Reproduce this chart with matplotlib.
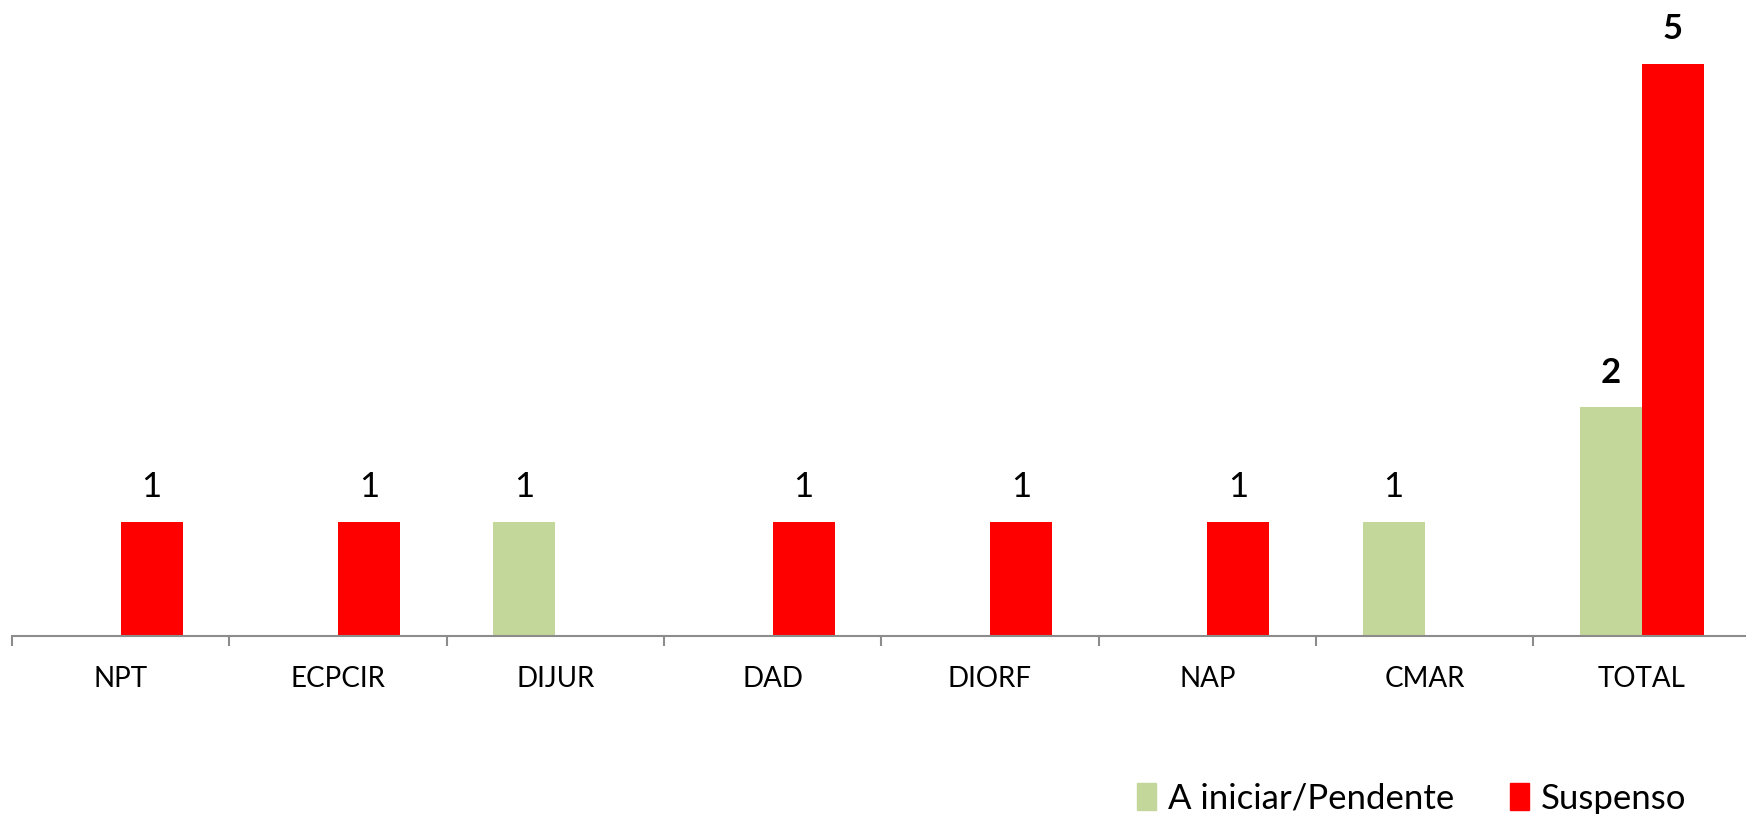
import numpy as np
import matplotlib
matplotlib.use('Agg')
import matplotlib.pyplot as plt
from matplotlib.patches import Patch

plt.rcParams['font.family'] = ['Lato', 'DejaVu Sans']

categorias = ['NPT', 'ECPCIR', 'DIJUR', 'DAD', 'DIORF', 'NAP', 'CMAR', 'TOTAL']
a_iniciar = [0, 0, 1, 0, 0, 0, 1, 2]
suspenso = [1, 1, 0, 1, 1, 1, 0, 5]

cor_verde = '#C4D79B'
cor_verm = '#FF0000'
cinza = '#8C8C8C'

fig = plt.figure(figsize=(17.46, 8.14), dpi=100)
ax = fig.add_axes([12 / 1746, 178 / 814, 1738.6 / 1746, 629.75 / 814])

x = np.arange(len(categorias))
w = 0.285
b1 = ax.bar(x - w / 2, a_iniciar, w, color=cor_verde, label='A iniciar/Pendente')
b2 = ax.bar(x + w / 2, suspenso, w, color=cor_verm, label='Suspenso')

ax.set_xlim(-0.5, len(categorias) - 0.5)
ax.set_ylim(0, 5.5)

# rotulos de valor (so onde ha valor)
for barras, vals in [(b1, a_iniciar), (b2, suspenso)]:
    for rect, v, cat in zip(barras, vals, categorias):
        if v == 0:
            continue
        peso = 'bold' if cat == 'TOTAL' else 'normal'
        ax.annotate(str(v), (rect.get_x() + rect.get_width() / 2, v),
                    xytext=(0, 24.5), textcoords='offset points',
                    ha='center', va='center', fontsize=25, fontweight=peso,
                    annotation_clip=False)

for s in ['top', 'right', 'left']:
    ax.spines[s].set_visible(False)
ax.spines['bottom'].set_color(cinza)
ax.spines['bottom'].set_linewidth(1.5)
ax.set_yticks([])

ax.set_xticks(x)
ax.set_xticklabels(categorias, fontsize=20)
ax.tick_params(axis='x', which='major', length=0, pad=21.5)
ax.set_xticks(np.arange(-0.5, len(categorias), 1), minor=True)
ax.tick_params(axis='x', which='minor', length=7, width=1.5, color=cinza)

handles = [Patch(color=cor_verde), Patch(color=cor_verm)]
fig.legend(handles, ['A iniciar/Pendente', 'Suspenso'], loc='lower right',
           bbox_to_anchor=(1704 / 1746, -0.022), ncol=2, frameon=False,
           fontsize=25, handlelength=0.55, handleheight=0.85,
           handletextpad=0.35, columnspacing=1.6, borderaxespad=0.1)

fig.savefig('out.png', dpi=100)
